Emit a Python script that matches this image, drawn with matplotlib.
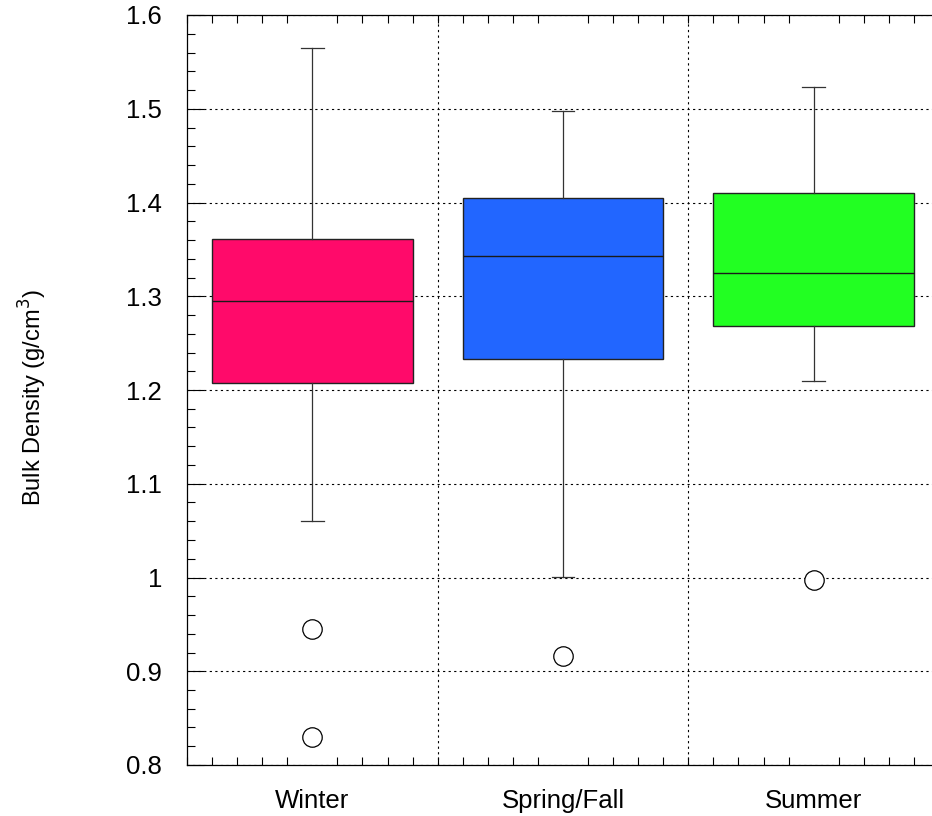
import matplotlib
matplotlib.use("Agg")
import matplotlib.pyplot as plt
from matplotlib.ticker import MultipleLocator

plt.rcParams['font.family'] = ['Liberation Sans', 'DejaVu Sans']
plt.rcParams['savefig.bbox'] = 'standard'

# season box statistics (g/cm^3)
seasons = ['Winter', 'Spring/Fall', 'Summer']
whislo = [1.060, 1.001, 1.210]
q1 = [1.208, 1.233, 1.268]
med = [1.295, 1.343, 1.325]
q3 = [1.361, 1.405, 1.410]
whishi = [1.565, 1.498, 1.523]
outliers = [[0.945, 0.830], [0.916], [0.997]]
colors = ['#ff0a6a', '#2266ff', '#22ff22']

stats = []
for i in range(len(seasons)):
    stats.append(dict(label=seasons[i], whislo=whislo[i], q1=q1[i], med=med[i],
                      q3=q3[i], whishi=whishi[i], fliers=outliers[i]))

fig = plt.figure(figsize=(9.32, 8.16), dpi=100)
# the original plot runs past the right edge of the picture; stop the axes at the edge
ax = fig.add_axes([187/932, 1-765/816, 745/932, 750/816])

bp = ax.bxp(stats, positions=[1, 2, 3], widths=0.8, patch_artist=True,
            capwidths=0.09, zorder=3,
            boxprops=dict(linewidth=1.0),
            medianprops=dict(color='#1a1a1a', linewidth=1.0),
            whiskerprops=dict(color='#333333', linewidth=0.9),
            capprops=dict(color='#333333', linewidth=0.9),
            flierprops=dict(marker='o', markersize=14, markerfacecolor='white',
                            markeredgecolor='black', markeredgewidth=0.9))
for box, c in zip(bp['boxes'], colors):
    box.set_facecolor(c)
    box.set_edgecolor('#222222')

ax.set_xlim(0.5, 0.5 + 3 * 745 / 752)
ax.set_ylim(0.8, 1.6)
ax.set_yticks([0.8, 0.9, 1.0, 1.1, 1.2, 1.3, 1.4, 1.5, 1.6])
ax.set_yticklabels(['0.8', '0.9', '1', '1.1', '1.2', '1.3', '1.4', '1.5', '1.6'])
ax.yaxis.set_minor_locator(MultipleLocator(0.02))
ax.xaxis.set_minor_locator(MultipleLocator(0.1))
ax.yaxis.set_ticks_position('left')
ax.xaxis.set_ticks_position('both')

ax.grid(axis='y', which='major', color='black', linestyle=(0, (2, 3)), linewidth=0.8, zorder=0)
for xg in [1.5, 2.5]:
    ax.axvline(xg, color='black', linestyle=(0, (2, 3)), linewidth=0.8, zorder=0)

ax.tick_params(which='both', direction='in', labelsize=18.5)
ax.tick_params(which='major', length=12, width=0.8, pad=18)
ax.tick_params(which='minor', length=6, width=0.8)
ax.tick_params(axis='x', which='major', length=0, pad=17)
for s in ax.spines.values():
    s.set_linewidth(0.9)
ax.spines['right'].set_visible(False)

ax.set_ylabel('Bulk Density (g/cm$^3$)', fontsize=17)
ax.yaxis.set_label_coords(-0.185, 0.49)

fig.savefig('out.png', dpi=100)
